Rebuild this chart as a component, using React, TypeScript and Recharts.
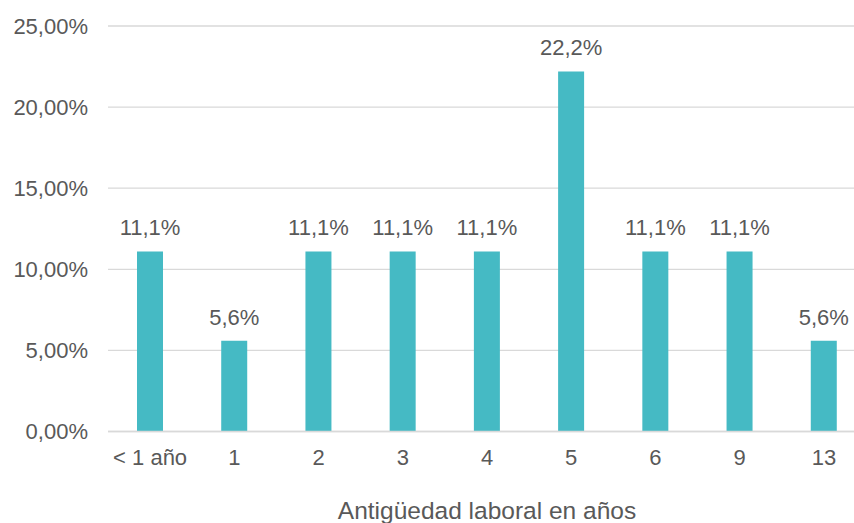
import { BarChart, Bar, XAxis, YAxis, CartesianGrid, LabelList, Label } from 'recharts';

const categories = ['< 1 año', '1', '2', '3', '4', '5', '6', '9', '13'];
const shares = [11.1, 5.6, 11.1, 11.1, 11.1, 22.2, 11.1, 11.1, 5.6];
const yTicks = [0, 5, 10, 15, 20, 25];
const axisTitle = 'Antigüedad laboral en años';

const data = categories.map((name, i) => ({ name, value: shares[i] }));

const font = '"Liberation Sans", Arial, sans-serif';
const textColor = '#595959';

const fmtTick = (v: number) => `${v.toFixed(2).replace('.', ',')}%`;
const fmtLabel = (v: any) => `${Number(v).toFixed(1).replace('.', ',')}%`;

export default function App() {
  return (
    <div style={{ position: 'absolute', left: 0, top: 0, width: 854, height: 523, overflow: 'hidden', background: '#fff' }}>
      <BarChart
        width={866}
        height={523}
        data={data}
        margin={{ top: 26, right: 0, left: 0, bottom: 0 }}
        style={{ fontFamily: font }}
      >
        <CartesianGrid vertical={false} stroke="#d9d9d9" strokeWidth={1.3} />
        <XAxis
          dataKey="name"
          height={91.5}
          axisLine={{ stroke: '#d9d9d9', strokeWidth: 1.3 }}
          tickLine={false}
          tickSize={0}
          tickMargin={18}
          interval={0}
          tick={{ fill: textColor, fontSize: 22, fontFamily: font }}
        >
          <Label
            value={axisTitle}
            position="insideBottom"
            offset={4}
            style={{ fill: textColor, fontSize: 24.5, fontFamily: font }}
          />
        </XAxis>
        <YAxis
          width={108}
          domain={[0, 25]}
          ticks={yTicks}
          axisLine={false}
          tickLine={false}
          tickSize={0}
          tickMargin={20}
          tickFormatter={fmtTick}
          tick={{ fill: textColor, fontSize: 22, fontFamily: font }}
        />
        <Bar dataKey="value" fill="#45bac4" barSize={26} isAnimationActive={false}>
          <LabelList
            dataKey="value"
            position="top"
            offset={16}
            formatter={fmtLabel}
            style={{ fill: textColor, fontSize: 22, fontFamily: font }}
          />
        </Bar>
      </BarChart>
    </div>
  );
}
